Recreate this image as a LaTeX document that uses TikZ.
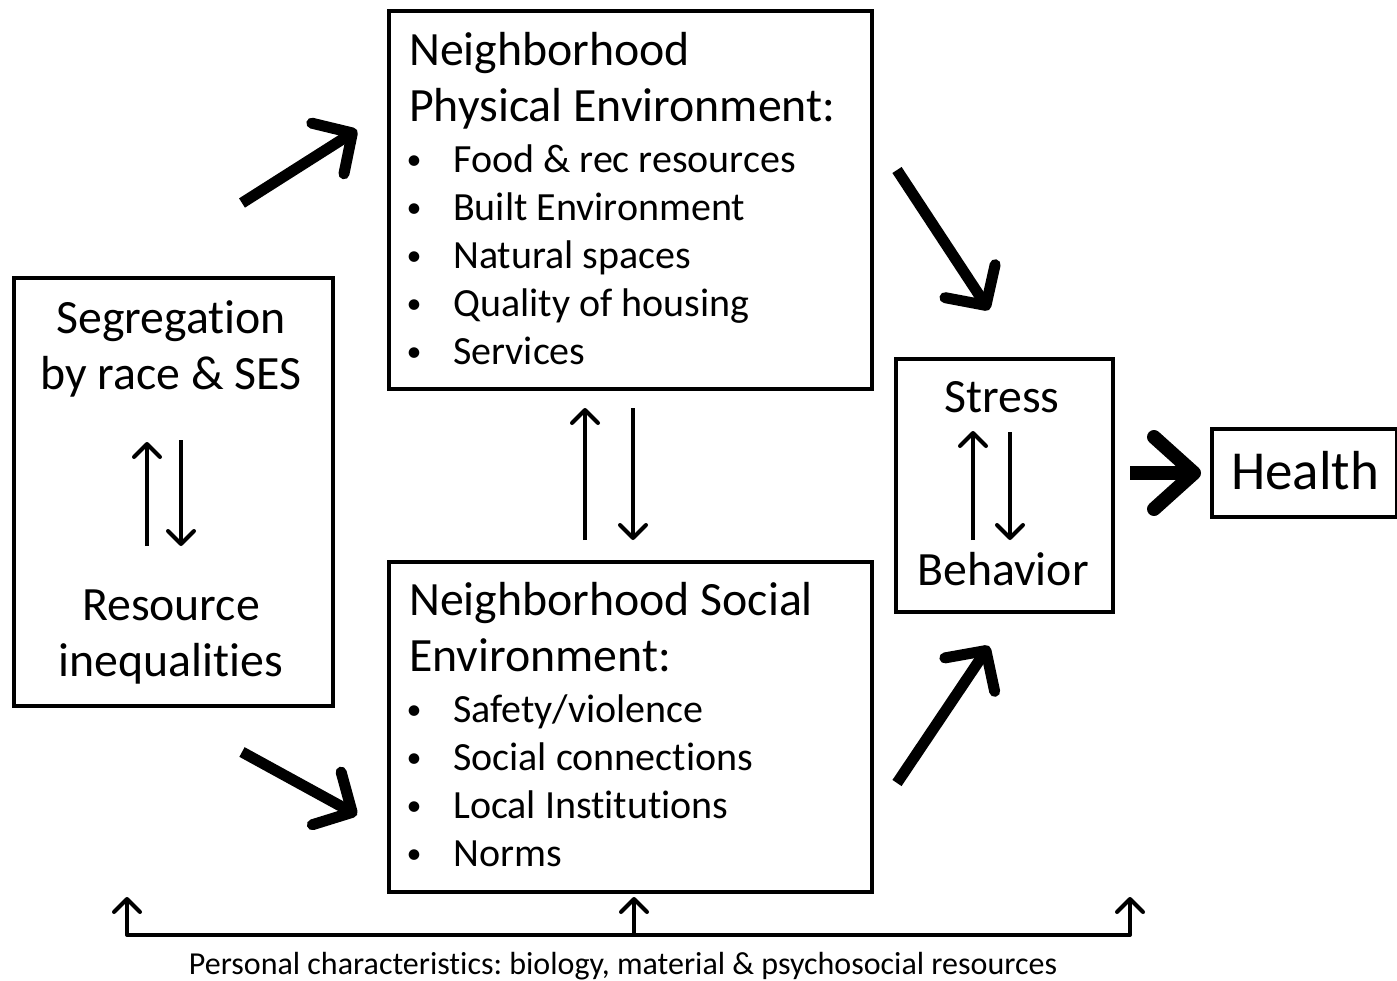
\documentclass[tikz,border=0pt]{standalone}
\usepackage{fontspec}
\setmainfont{Carlito}[Ligatures=CommonOff]
\usetikzlibrary{arrows.meta}
\frenchspacing
\begin{document}
\begin{tikzpicture}[x=1pt,y=-1pt,
 box/.style={draw,line width=3.5pt,inner sep=0pt,anchor=north west},
 big/.style={font=\fontsize{47.8}{56}\selectfont, inner sep=0pt, anchor=base west},
 bigc/.style={font=\fontsize{47.8}{56}\selectfont, inner sep=0pt, anchor=base},
 item/.style={font=\fontsize{40}{48}\selectfont, inner sep=0pt, anchor=base west},
 bul/.style={font=\fontsize{30}{36}\selectfont, inner sep=0pt, anchor=base},
 heavyarrow/.style={line width=11pt, -{Straight Barb[round,length=29pt,width=60pt]}},
 thinarrow/.style={line width=4pt, -{Straight Barb[round,length=13pt,width=26pt]}}]
\useasboundingbox (0,0) rectangle (1397,980);

% boxes
\node[box, minimum width=483pt, minimum height=378pt] (phys) at (387,9) {};
\node[box, minimum width=483pt, minimum height=330pt] (soc) at (387,560) {};
\node[box, minimum width=319pt, minimum height=428pt] (seg) at (12,276) {};
\node[box, minimum width=217pt, minimum height=253pt] (stress) at (894,357) {};
\node[box, minimum width=185pt, minimum height=88pt] (health) at (1210,427) {};

% physical environment text
\node[big] (p1) at (409,65) {Neighborhood};
\node[big] (p2) at (409,121) {Physical Environment:};
\foreach \t [count=\i] in {Food \& rec resources, Built Environment, Natural spaces, Quality of housing, Services}{
  \node[bul] (pb\i) at (414,121+48*\i) {•};
  \node[item] (pi\i) at (453,124+48*\i) {\t};
}

% social environment text
\node[big] (s1) at (409,615) {Neighborhood Social};
\node[big] (s2) at (409,671) {Environment:};
\foreach \t [count=\i] in {Safety/violence, Social connections, Local Institutions, Norms}{
  \node[bul] (sb\i) at (414,671+48*\i) {•};
  \node[item] (si\i) at (453,674+48*\i) {\t};
}

% segregation text
\node[bigc] (g1) at (171,333) {Segregation};
\node[bigc] (g2) at (171,389) {by race \& SES};
\node[bigc] (g3) at (171,620) {Resource};
\node[bigc] (g4) at (171,676) {inequalities};

% stress text
\node[bigc] (t1) at (1002,412) {Stress};
\node[bigc] (t2) at (1003,585) {Behavior};

% health
\node[font=\fontsize{55}{64}\selectfont, inner sep=0pt, anchor=base west] (h1) at (1231,489) {Health};

% bottom caption
\node[font=\fontsize{32}{38}\selectfont, inner sep=0pt, anchor=base] (cap) at (623,974) {Personal characteristics: biology, material \& psychosocial resources};

% arrow end coordinates
\coordinate (a1s) at (242,203); \coordinate (a1e) at (357,130);
\coordinate (a2s) at (242,752); \coordinate (a2e) at (357,815);
\coordinate (a3s) at (897,170); \coordinate (a3e) at (989,310);
\coordinate (a4s) at (897,783); \coordinate (a4e) at (989,646);
\coordinate (a5s) at (1130,473); \coordinate (a5e) at (1201,473);

\draw[heavyarrow] (a1s) -- (a1e);
\draw[heavyarrow] (a2s) -- (a2e);
\draw[heavyarrow] (a3s) -- (a3e);
\draw[heavyarrow] (a4s) -- (a4e);
\draw[line width=14pt, -{Straight Barb[round,length=40pt,width=72pt]}] (a5s) -- (a5e);

% paired thin arrows
\coordinate (u1s) at (147,546); \coordinate (u1e) at (147,442);
\coordinate (d1s) at (181,440); \coordinate (d1e) at (181,546);
\coordinate (u2s) at (585,540); \coordinate (u2e) at (585,408);
\coordinate (d2s) at (633,408); \coordinate (d2e) at (633,540);
\coordinate (u3s) at (973,540); \coordinate (u3e) at (973,431);
\coordinate (d3s) at (1010,432); \coordinate (d3e) at (1010,540);
\draw[thinarrow] (u1s) -- (u1e);
\draw[thinarrow] (d1s) -- (d1e);
\draw[thinarrow] (u2s) -- (u2e);
\draw[thinarrow] (d2s) -- (d2e);
\draw[thinarrow] (u3s) -- (u3e);
\draw[thinarrow] (d3s) -- (d3e);

% bottom bracket
\coordinate (bl) at (127,935); \coordinate (bm) at (634,935); \coordinate (br) at (1130,935);
\coordinate (blt) at (127,897); \coordinate (bmt) at (634,897); \coordinate (brt) at (1130,897);
\draw[line width=4pt, line cap=round] (bl) -- (br);
\draw[thinarrow] (bl) -- (blt);
\draw[thinarrow] (bm) -- (bmt);
\draw[thinarrow] (br) -- (brt);
\end{tikzpicture}
\end{document}
